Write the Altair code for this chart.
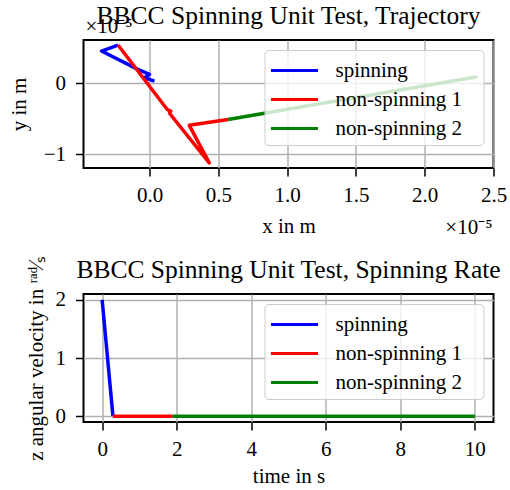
import altair as alt
import pandas as pd

FONT = "Liberation Serif"

series = ["spinning", "non-spinning 1", "non-spinning 2"]
colors = ["#0000ff", "#ff0000", "#008000"]
titles = ["BBCC Spinning Unit Test, Trajectory", "BBCC Spinning Unit Test, Spinning Rate"]

# trajectory (x and y in units of 1e-5 m)
spin_x = [0.036, -0.036, 0.0, -0.085, -0.349, -0.229]
spin_y = [0.032, 0.079, 0.127, 0.197, 0.455, 0.539]
ns1_x = [-0.229, 0.13, 0.155, 0.145, 0.434, 0.289, 0.57]
ns1_y = [0.539, -0.37, -0.39, -0.42, -1.118, -0.59, -0.507]
ns2_x = [0.57, 2.384]
ns2_y = [-0.507, 0.093]

# spinning rate
spin_t = [0.0, 0.29]
spin_w = [2.0, 0.0]
ns1_t = [0.29, 1.89]
ns1_w = [0.0, 0.0]
ns2_t = [1.89, 10.0]
ns2_w = [0.0, 0.0]

x_ticks = [0.0, 0.5, 1.0, 1.5, 2.0, 2.5]
y_ticks = [-1, 0]
t_ticks = [0, 2, 4, 6, 8, 10]
w_ticks = [0, 1, 2]
offset_label = "×10⁻⁵"


def build(parts, a, b):
    rows = []
    for name, xs, ys in parts:
        for i, (xv, yv) in enumerate(zip(xs, ys)):
            rows.append({a: xv, b: yv, "series": name, "i": i})
    return pd.DataFrame(rows)


traj = build([(series[0], spin_x, spin_y), (series[1], ns1_x, ns1_y),
              (series[2], ns2_x, ns2_y)], "x", "y")
rate = build([(series[0], spin_t, spin_w), (series[1], ns1_t, ns1_w),
              (series[2], ns2_t, ns2_w)], "t", "w")

W, H = 410, 128
PAD_CHAR = "\u2800"  # blank filler widening the legend box


def legend():
    return alt.Legend(
        title=None, orient="top-right", offset=10,
        fillColor="rgba(255,255,255,0.8)", strokeColor="#cccccc",
        cornerRadius=4, padding=6, symbolType="M-1.08,0H2.54", symbolSize=676,
        symbolStrokeWidth=3, symbolFillColor="transparent",
        labelFont=FONT, labelFontSize=21, labelColor="black",
        labelOffset=36, rowPadding=4, labelExpr="datum.label + '" + PAD_CHAR + "'",
    )


color = alt.Color("series:N", scale=alt.Scale(domain=series, range=colors),
                  legend=legend())


def title_layer(text):
    df = pd.DataFrame({"t": [text]})
    return alt.Chart(df).mark_text(align="center", baseline="alphabetic", font=FONT,
                                   fontSize=25.5, color="black").encode(
        text="t:N", x=alt.value(W / 2), y=alt.value(-16))


lab = pd.DataFrame({"t": [offset_label]})

top_lines = alt.Chart(traj).mark_line(strokeWidth=3.5, strokeJoin="round").encode(
    x=alt.X("x:Q", scale=alt.Scale(domain=[-0.48, 2.5], nice=False, zero=False),
            axis=alt.Axis(values=x_ticks, format=".1f", title="x in m",
                          titleY=64, titleBaseline="alphabetic")),
    y=alt.Y("y:Q", scale=alt.Scale(domain=[-1.19, 0.61], nice=False, zero=False),
            axis=alt.Axis(values=y_ticks, title="y in m", titleX=-58,
                          titleBaseline="alphabetic")),
    color=color,
    order="i:Q",
)

x_off = alt.Chart(lab).mark_text(align="right", baseline="alphabetic", font=FONT,
                                 fontSize=21, color="black").encode(
    text="t:N", x=alt.value(W - 1), y=alt.value(H + 66))
y_off = alt.Chart(lab).mark_text(align="left", baseline="alphabetic", font=FONT,
                                 fontSize=21, color="black").encode(
    text="t:N", x=alt.value(2), y=alt.value(-7))

top = alt.layer(top_lines, x_off, y_off, title_layer(titles[0])).properties(
    width=W, height=H)

bottom_lines = alt.Chart(rate).mark_line(strokeWidth=3.5, strokeJoin="round").encode(
    x=alt.X("t:Q", scale=alt.Scale(domain=[-0.5, 10.5], nice=False, zero=False),
            axis=alt.Axis(values=t_ticks, title="time in s", titleY=60,
                          titleBaseline="alphabetic")),
    y=alt.Y("w:Q", scale=alt.Scale(domain=[-0.1, 2.1], nice=False, zero=False),
            axis=alt.Axis(values=w_ticks, title="z angular velocity in ʳᵃᵈ⁄ₛ",
                          titleX=-41, titleBaseline="alphabetic")),
    color=color,
    order="i:Q",
)

bottom = alt.layer(bottom_lines, title_layer(titles[1])).properties(width=W, height=H)

chart = alt.vconcat(top, bottom, spacing=126, bounds="flush").resolve_scale(
    color="independent").resolve_legend(color="independent").properties(
    padding={"left": 7.5, "top": 3, "right": 0, "bottom": 0}
).configure_view(stroke="black", strokeWidth=2).configure_axis(
    labelFont=FONT, labelFontSize=21, labelColor="black",
    titleFont=FONT, titleFontSize=21, titleFontWeight="normal", titleColor="black",
    tickColor="black", tickSize=8, tickWidth=1.5, labelFlush=False,
    gridColor="#b0b0b0", gridWidth=1.5, gridOpacity=1, domain=False,
).configure_axisX(labelPadding=8).configure_axisY(labelPadding=10)

chart.save("out.html", embed_options={"renderer": "svg", "actions": False})
